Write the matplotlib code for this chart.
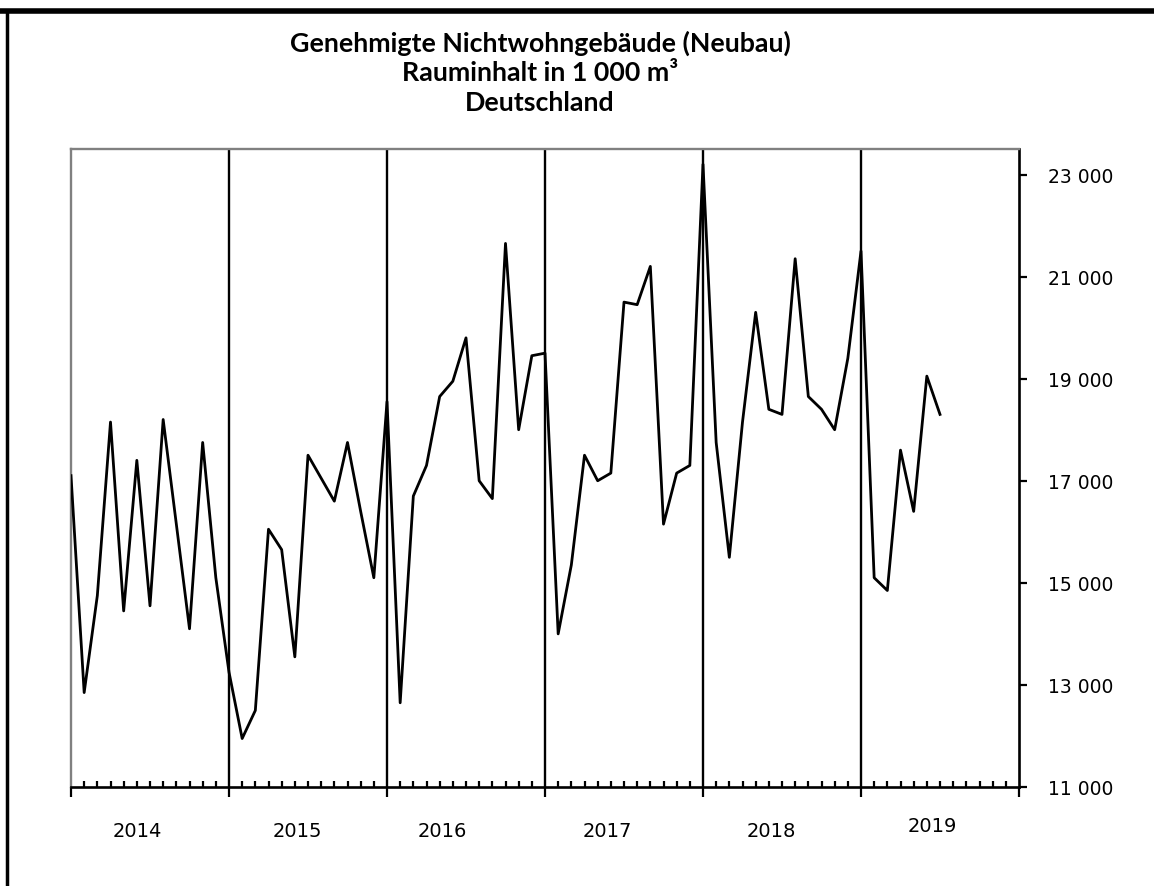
import numpy as np
import matplotlib
matplotlib.use('Agg')
import matplotlib.pyplot as plt
from matplotlib.lines import Line2D
from matplotlib.ticker import FuncFormatter, MultipleLocator

# monthly values Jan 2014 - Jul 2019, 1 000 m3
werte = [17100, 12850, 14750, 18150, 14450, 17400, 14550, 18200, 16150, 14100, 17750, 15100,
         13250, 11950, 12500, 16050, 15650, 13550, 17500, 17050, 16600, 17750, 16400, 15100,
         18550, 12650, 16700, 17300, 18650, 18950, 19800, 17000, 16650, 21650, 18000, 19450,
         19500, 14000, 15350, 17500, 17000, 17150, 20500, 20450, 21200, 16150, 17150, 17300,
         23200, 17750, 15500, 18150, 20300, 18400, 18300, 21350, 18650, 18400, 18000, 19400,
         21500, 15100, 14850, 17600, 16400, 19050, 18300]
jahre = ['2014', '2015', '2016', '2017', '2018', '2019']
jahr_pos = [5.0, 17.2, 28.2, 40.7, 53.2, 65.4]
y_ticks = [11000, 13000, 15000, 17000, 19000, 21000, 23000]

fig = plt.figure(figsize=(11.54, 8.87), dpi=100)
ax = fig.add_axes([71/1154, 99/887, 948/1154, 638/887])

x = np.arange(len(werte))
ax.plot(x, werte, color='black', lw=2.0, zorder=3)

for i in range(12, 72, 12):
    ax.axvline(i, color='black', lw=1.7, zorder=2)

ax.set_xlim(0, 72)
ax.set_ylim(11000, 23500)

ax.spines['left'].set_color('#808080')
ax.spines['top'].set_color('#808080')
ax.spines['left'].set_linewidth(1.7)
ax.spines['top'].set_linewidth(1.7)
ax.spines['right'].set_linewidth(1.9)
ax.spines['bottom'].set_linewidth(1.9)

ax.yaxis.tick_right()
ax.set_yticks(y_ticks)
ax.yaxis.set_major_formatter(FuncFormatter(lambda v, p: '{:,}'.format(int(v)).replace(',', ' ')))
ax.tick_params(axis='y', direction='out', length=6, width=1.6, pad=15, labelsize=13.5)

ax.set_xticks(range(0, 73, 12))
ax.set_xticklabels([])
ax.xaxis.set_minor_locator(MultipleLocator(1))
ax.tick_params(axis='x', which='major', direction='out', length=7, width=1.6)
ax.tick_params(axis='x', which='minor', direction='in', length=4.5, width=1.6)

for j, p in zip(jahre, jahr_pos):
    dy = -0.068 if j != '2019' else -0.060
    ax.text(p, dy, j, transform=ax.get_xaxis_transform(), ha='center', va='center', fontsize=14)

titel = ['Genehmigte Nichtwohngebäude (Neubau)', 'Rauminhalt in 1 000 m³', 'Deutschland']
for k, t in enumerate(titel):
    fig.text(0.468, 0.951 - k * 0.0335, t, ha='center', va='center',
             fontsize=19.3, fontweight='bold', family='Lato')

# frame of the picture
fig.add_artist(Line2D([0, 1], [1 - 11.5/887, 1 - 11.5/887], color='black', lw=4))
fig.add_artist(Line2D([6.5/1154, 6.5/1154], [0, 1 - 11.5/887], color='black', lw=2.5))

fig.savefig('out.png', dpi=100)
